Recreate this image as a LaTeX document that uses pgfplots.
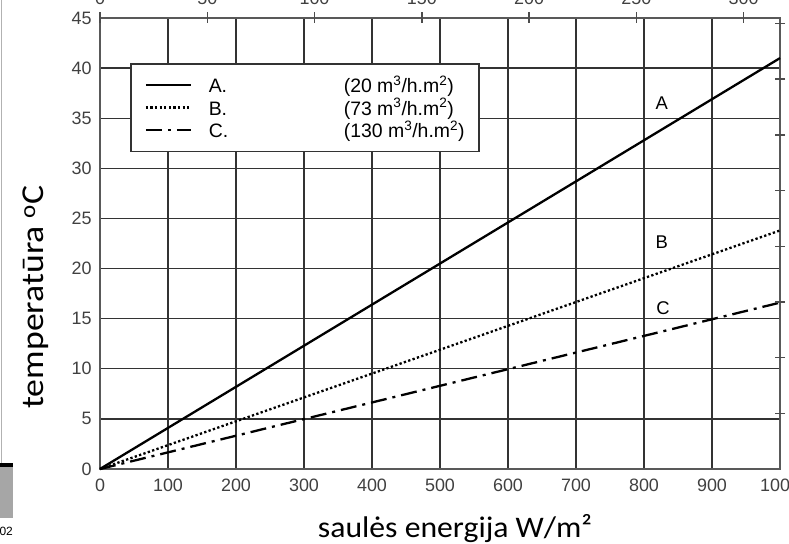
\documentclass[border=0pt]{standalone}
\usepackage{fontspec}
\setmainfont{Liberation Sans}
\newfontfamily\carlito{Carlito}
\usepackage{pgfplots}
\pgfplotsset{compat=1.18}
\begin{document}
\begin{tikzpicture}
% main axis
\begin{axis}[
  at={(0bp,0bp)}, anchor=south west,
  scale only axis, width=680bp, height=451bp,
  xmin=0, xmax=1000, ymin=0, ymax=45,
  xtick={0,100,...,1000}, ytick={0,5,...,45},
  grid=major, major grid style={black!80, line width=1.4bp},
  major tick length=0pt,
  axis line style={black!65, line width=2.2bp},
  tick label style={font=\fontsize{18}{20}\selectfont, text=black!75},
  /pgf/number format/assume math mode=true,
  /pgf/number format/set thousands separator={},
  xticklabel style={yshift=-6.5bp},
  yticklabel style={xshift=-5bp},
  legend style={at={(0.0441,0.9002)}, anchor=north west,
    draw=black!80, line width=1.6bp, fill=white,
    inner xsep=0bp, inner ysep=10bp,
    font=\fontsize{19.5}{19.5}\selectfont,
    cells={anchor=west},
    nodes={inner xsep=0bp, inner ysep=0bp, minimum height=22.5bp}},
  legend image code/.code={\path[draw=none,fill=none] (0bp,-1bp) rectangle (78bp,1bp); \draw[#1] (15bp,0bp) -- (60bp,0bp);},
  clip=false,
]
\addplot[black, line width=2.3bp] coordinates {(0,0) (1000,41)};
\addlegendentry{\makebox[270bp][l]{\makebox[135bp][l]{A.}(20 m\textsuperscript{3}/h.m\textsuperscript{2})}}
\addplot[black, line width=2.3bp, dash pattern=on 2.3bp off 2.3bp] coordinates {(0,0) (1000,23.8)};
\addlegendentry{\makebox[270bp][l]{\makebox[135bp][l]{B.}(73 m\textsuperscript{3}/h.m\textsuperscript{2})}}
\addplot[black, line width=2.3bp, dash pattern=on 16bp off 6bp on 3bp off 6bp] coordinates {(0,0) (1000,16.6)};
\addlegendentry{\makebox[270bp][l]{\makebox[135bp][l]{C.}(130 m\textsuperscript{3}/h.m\textsuperscript{2})}}
\node[font=\fontsize{18.5}{18.5}\selectfont] at (axis cs:826,36.5) {A};
\node[font=\fontsize{18.5}{18.5}\selectfont] at (axis cs:826,22.65) {B};
\node[font=\fontsize{18.5}{18.5}\selectfont] at (axis cs:828,16.07) {C};
\end{axis}
% top secondary axis (BTU/h.ft2)
\begin{axis}[
  at={(0bp,0bp)}, anchor=south west,
  scale only axis, width=680bp, height=451bp,
  xmin=0, xmax=317, ymin=0, ymax=1,
  axis x line*=top, axis y line=none,
  axis line style={draw=none},
  xtick={0,50,...,300},
  tick align=center, major tick length=11bp,
  xtick style={black!70, line width=1.5bp},
  tick label style={font=\fontsize{18}{20}\selectfont, text=black!75},
  /pgf/number format/assume math mode=true,
  xticklabel style={anchor=south, yshift=4bp},
]
\addplot[draw=none] coordinates {(0,0)};
\end{axis}
% right secondary axis (delta F)
\begin{axis}[
  at={(0bp,0bp)}, anchor=south west,
  scale only axis, width=680bp, height=451bp,
  xmin=0, xmax=1, ymin=0, ymax=81,
  axis y line*=right, axis x line=none,
  axis line style={draw=none},
  ytick={10,20,...,80}, yticklabels={},
  tick align=center, major tick length=10bp,
  ytick style={black!70, line width=1.5bp},
]
\addplot[draw=none] coordinates {(0,0)};
\end{axis}
% axis titles
\node[font=\carlito\fontsize{30}{30}\selectfont, anchor=base, xscale=1.06] at (355bp,-68bp) {saulės energija W/m²};
\node[font=\carlito\fontsize{32}{32}\selectfont, anchor=base, rotate=90, xscale=1.12] at (-56bp,172bp) {temperatūra \textsuperscript{o}C};
% scan remnants at the left edge
\draw[black!30, line width=1bp] (-98bp,469bp) -- (-98bp,6bp);
\fill[black] (-100bp,2bp) rectangle (-87bp,6bp);
\fill[black!35] (-100bp,-49bp) rectangle (-87bp,2bp);
\node[font=\fontsize{12}{12}\selectfont, anchor=east, inner sep=0pt] at (-87bp,-62bp) {202};
\pgfresetboundingbox
\useasboundingbox (-100bp,-75bp) rectangle (689bp,469bp);
\end{tikzpicture}
\end{document}
